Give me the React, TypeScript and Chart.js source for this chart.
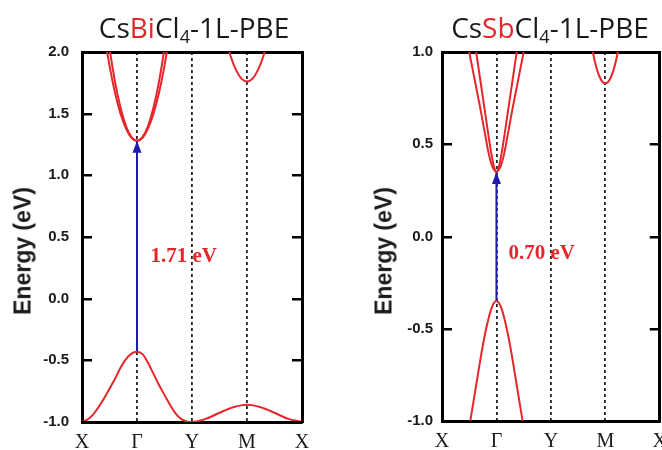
import React, { useEffect, useRef } from "react";
import { Chart, registerables } from "chart.js";

Chart.register(...registerables);

// ---------- shared ----------
const kTickLabels = ["X", "Γ", "Y", "M", "X"];
const kMin = 0;
const kMax = 4;
const yStep = 0.5;

// ---------- CsBiCl4-1L-PBE ----------
const biYMin = -1.0;
const biYMax = 2.0;
const biVbK = [0, 0.1, 0.2, 0.3, 0.4, 0.5, 0.6, 0.7, 0.8, 0.9, 1.0, 1.1, 1.2, 1.3, 1.4, 1.5, 1.6, 1.7, 1.8, 1.9, 2.0, 2.25, 2.5, 2.75, 3.0, 3.25, 3.5, 3.75, 4.0];
const biVbE = [-1.0, -0.98, -0.94, -0.88, -0.81, -0.73, -0.65, -0.56, -0.49, -0.445, -0.43, -0.45, -0.52, -0.61, -0.70, -0.78, -0.86, -0.93, -0.975, -0.995, -1.0, -0.975, -0.925, -0.88, -0.86, -0.88, -0.925, -0.975, -1.0];
const biCb1K = [0.4, 0.5, 0.6, 0.7, 0.8, 0.9, 1.0, 1.1, 1.2, 1.3, 1.4, 1.5, 1.6];
const biCb1E = [2.16, 1.89, 1.67, 1.50, 1.38, 1.305, 1.28, 1.305, 1.38, 1.50, 1.67, 1.89, 2.16];
const biCb2K = [0.4, 0.5, 0.6, 0.7, 0.8, 0.9, 1.0, 1.1, 1.2, 1.3, 1.4, 1.5, 1.6];
const biCb2E = [2.36, 2.03, 1.76, 1.55, 1.40, 1.31, 1.28, 1.31, 1.40, 1.55, 1.76, 2.03, 2.36];
const biMK = [2.6, 2.7, 2.8, 2.9, 3.0, 3.1, 3.2, 3.3, 3.4];
const biME = [2.14, 1.97, 1.855, 1.784, 1.76, 1.784, 1.855, 1.97, 2.14];
const biGapK = [1, 1];
const biGapE = [-0.43, 1.28];
const biGapText = "1.71 eV";
const biGapLabelK = 1.85;
const biGapLabelE = 0.34;

// ---------- CsSbCl4-1L-PBE ----------
const sbYMin = -1.0;
const sbYMax = 1.0;
const sbVbK = [0.45, 0.5, 0.55, 0.6, 0.65, 0.7, 0.75, 0.8, 0.85, 0.9, 0.95, 1.0, 1.05, 1.1, 1.15, 1.2, 1.25, 1.3, 1.35, 1.4, 1.45, 1.5, 1.55];
const sbVbE = [-1.13, -1.035, -0.945, -0.855, -0.765, -0.675, -0.59, -0.515, -0.45, -0.396, -0.362, -0.35, -0.362, -0.396, -0.45, -0.515, -0.59, -0.675, -0.765, -0.855, -0.945, -1.035, -1.13];
const sbCb1K = [0.45, 0.5, 0.55, 0.6, 0.65, 0.7, 0.75, 0.8, 0.85, 0.9, 0.95, 1.0, 1.05, 1.1, 1.15, 1.2, 1.25, 1.3, 1.35, 1.4, 1.45, 1.5, 1.55];
const sbCb1E = [1.075, 1.0, 0.925, 0.85, 0.775, 0.70, 0.62, 0.54, 0.46, 0.40, 0.365, 0.35, 0.365, 0.40, 0.46, 0.54, 0.62, 0.70, 0.775, 0.85, 0.925, 1.0, 1.075];
const sbCb2K = [0.6, 0.65, 0.7, 0.75, 0.8, 0.85, 0.9, 0.95, 1.0, 1.05, 1.1, 1.15, 1.2, 1.25, 1.3, 1.35, 1.4];
const sbCb2E = [1.055, 0.955, 0.855, 0.755, 0.655, 0.555, 0.46, 0.385, 0.35, 0.385, 0.46, 0.555, 0.655, 0.755, 0.855, 0.955, 1.055];
const sbMK = [2.7, 2.8, 2.9, 3.0, 3.1, 3.2, 3.3];
const sbME = [1.12, 0.958, 0.862, 0.83, 0.862, 0.958, 1.12];
const sbGapK = [1, 1];
const sbGapE = [-0.35, 0.35];
const sbGapText = "0.70 eV";
const sbGapLabelK = 1.83;
const sbGapLabelE = -0.09;

const RED = "#e5262b";
const BLUE = "#1c1cb4";
const INK = "#1a1a1a";

const pts = (ks: number[], es: number[]) => ks.map((k, i) => ({ x: k, y: es[i] }));

// inner tick marks on left and right frame, at the y scale's own ticks
const innerTicksPlugin = {
  id: "innerTicks",
  afterDraw(chart: any) {
    const ctx = chart.ctx;
    const ys = chart.scales.y;
    const { left, right } = chart.chartArea;
    ctx.save();
    ctx.strokeStyle = "#000";
    ctx.lineWidth = 2.5;
    ctx.beginPath();
    ys.ticks.forEach((t: any) => {
      const y = Math.round(ys.getPixelForValue(t.value)) + 0.25;
      ctx.moveTo(left, y);
      ctx.lineTo(left + 10, y);
      ctx.moveTo(right - 10, y);
      ctx.lineTo(right, y);
    });
    ctx.stroke();
    ctx.restore();
  },
};

const gapPlugin = {
  id: "gapArrow",
  afterDatasetsDraw(chart: any, _args: any, opts: any) {
    const ctx = chart.ctx;
    const meta = chart.getDatasetMeta(opts.index);
    const els = meta.data;
    const tip = els[els.length - 1];
    ctx.save();
    ctx.fillStyle = BLUE;
    ctx.beginPath();
    ctx.moveTo(tip.x, tip.y);
    ctx.lineTo(tip.x - 4.5, tip.y + 12);
    ctx.lineTo(tip.x + 4.5, tip.y + 12);
    ctx.closePath();
    ctx.fill();
    ctx.font = 'bold 21px "Liberation Serif", "Times New Roman", serif';
    ctx.fillStyle = RED;
    ctx.textAlign = "center";
    ctx.textBaseline = "middle";
    ctx.fillText(opts.text, chart.scales.x.getPixelForValue(opts.k), chart.scales.y.getPixelForValue(opts.e));
    ctx.restore();
  },
};

type PanelProps = {
  left: number;
  width: number;
  yAxisWidth: number;
  padRight: number;
  xAxisHeight: number;
  tickPad: number;
  yMin: number;
  yMax: number;
  bands: { x: number; y: number }[][];
  gap: { x: number; y: number }[];
  gapText: string;
  gapLabelK: number;
  gapLabelE: number;
};

function Panel(p: PanelProps) {
  const ref = useRef<HTMLCanvasElement | null>(null);
  useEffect(() => {
    if (!ref.current) return;
    const bandSets = p.bands.map((b) => ({
      data: b,
      borderColor: RED,
      borderWidth: 2,
      pointRadius: 0,
      showLine: true,
      fill: false,
      cubicInterpolationMode: "monotone" as const,
    }));
    const arrowSet = {
      data: p.gap,
      borderColor: BLUE,
      borderWidth: 2,
      pointRadius: 0,
      showLine: true,
      fill: false,
    };
    const chart = new Chart(ref.current, {
      type: "line",
      data: { datasets: [...bandSets, arrowSet] as any },
      plugins: [gapPlugin as any, innerTicksPlugin as any],
      options: {
        animation: false,
        responsive: false,
        events: [],
        layout: { padding: { top: 52, right: p.padRight, bottom: 0, left: 0 } },
        plugins: {
          legend: { display: false },
          tooltip: { enabled: false },
          gapArrow: { index: bandSets.length, text: p.gapText, k: p.gapLabelK, e: p.gapLabelE },
        } as any,
        scales: {
          x: {
            type: "linear",
            position: "bottom",
            min: kMin,
            max: kMax,
            afterBuildTicks: (s: any) => {
              s.ticks = kTickLabels.map((_, i) => ({ value: kMin + i }));
            },
            afterFit: (s: any) => {
              s.height = p.xAxisHeight;
            },
            ticks: {
              autoSkip: false,
              maxRotation: 0,
              padding: 9,
              color: INK,
              font: { family: '"Liberation Serif", "Times New Roman", serif', size: 20 },
              callback: (v: any) => kTickLabels[Math.round(Number(v) - kMin)] ?? "",
            },
            grid: { display: true, drawOnChartArea: true, drawTicks: false, color: "#222", lineWidth: 1.8 },
            border: { display: true, color: "#000", width: 3, dash: [3, 3] },
          },
          x2: {
            type: "linear",
            position: "top",
            min: kMin,
            max: kMax,
            afterFit: (s: any) => {
              s.height = 0;
            },
            ticks: { display: false },
            grid: { display: false },
            border: { display: true, color: "#000", width: 3 },
          },
          y: {
            type: "linear",
            position: "left",
            min: p.yMin,
            max: p.yMax,
            afterFit: (s: any) => {
              s.width = p.yAxisWidth;
            },
            ticks: {
              stepSize: yStep,
              padding: p.tickPad,
              color: INK,
              font: { family: '"Liberation Sans", Arial, sans-serif', size: 15, weight: "bold" },
              callback: (v: any) => Number(v).toFixed(1),
            },
            grid: { display: false, drawTicks: false },
            border: { display: true, color: "#000", width: 3 },
          },
          y2: {
            type: "linear",
            position: "right",
            min: p.yMin,
            max: p.yMax,
            afterFit: (s: any) => {
              s.width = 0;
            },
            ticks: { display: false, stepSize: yStep },
            grid: { display: false, drawTicks: false },
            border: { display: true, color: "#000", width: 3 },
          },
        } as any,
      },
    });
    return () => chart.destroy();
  }, []);
  return (
    <canvas
      ref={ref}
      width={p.width}
      height={450}
      style={{ position: "absolute", left: p.left, top: 0, width: p.width, height: 450, display: "block" }}
    />
  );
}

const titleStyle = (cx: number): React.CSSProperties => ({
  position: "absolute",
  left: cx,
  top: 13,
  transform: "translateX(-50%)",
  font: '28px "Open Sans", "Noto Sans", sans-serif',
  lineHeight: "28px",
  color: INK,
  whiteSpace: "nowrap",
});

const subStyle: React.CSSProperties = { fontSize: "0.65em", position: "relative", top: "0.3em", lineHeight: 0 };

const yTitleStyle = (cx: number, cy: number): React.CSSProperties => ({
  position: "absolute",
  left: cx,
  top: cy,
  transform: "translate(-50%, -50%) rotate(-90deg)",
  font: 'bold 23px "Liberation Sans", Arial, sans-serif',
  color: INK,
  whiteSpace: "nowrap",
  lineHeight: "23px",
});

export default function App() {
  return (
    <div style={{ position: "absolute", left: 0, top: 0, width: 662, height: 450, overflow: "hidden", background: "#fff" }}>
      <Panel
        left={0}
        width={331}
        yAxisWidth={82}
        padRight={29}
        xAxisHeight={28}
        tickPad={13}
        yMin={biYMin}
        yMax={biYMax}
        bands={[pts(biVbK, biVbE), pts(biCb1K, biCb1E), pts(biCb2K, biCb2E), pts(biMK, biME)]}
        gap={pts(biGapK, biGapE)}
        gapText={biGapText}
        gapLabelK={biGapLabelK}
        gapLabelE={biGapLabelE}
      />
      <Panel
        left={331}
        width={345}
        yAxisWidth={111}
        padRight={16}
        xAxisHeight={29}
        tickPad={9}
        yMin={sbYMin}
        yMax={sbYMax}
        bands={[pts(sbVbK, sbVbE), pts(sbCb1K, sbCb1E), pts(sbCb2K, sbCb2E), pts(sbMK, sbME)]}
        gap={pts(sbGapK, sbGapE)}
        gapText={sbGapText}
        gapLabelK={sbGapLabelK}
        gapLabelE={sbGapLabelE}
      />
      <div style={titleStyle(194)}>
        Cs<span style={{ color: RED }}>Bi</span>Cl<span style={subStyle}>4</span>-1L-PBE
      </div>
      <div style={titleStyle(550)}>
        Cs<span style={{ color: RED }}>Sb</span>Cl<span style={subStyle}>4</span>-1L-PBE
      </div>
      <div style={yTitleStyle(23, 251)}>Energy (eV)</div>
      <div style={yTitleStyle(384, 251)}>Energy (eV)</div>
    </div>
  );
}
